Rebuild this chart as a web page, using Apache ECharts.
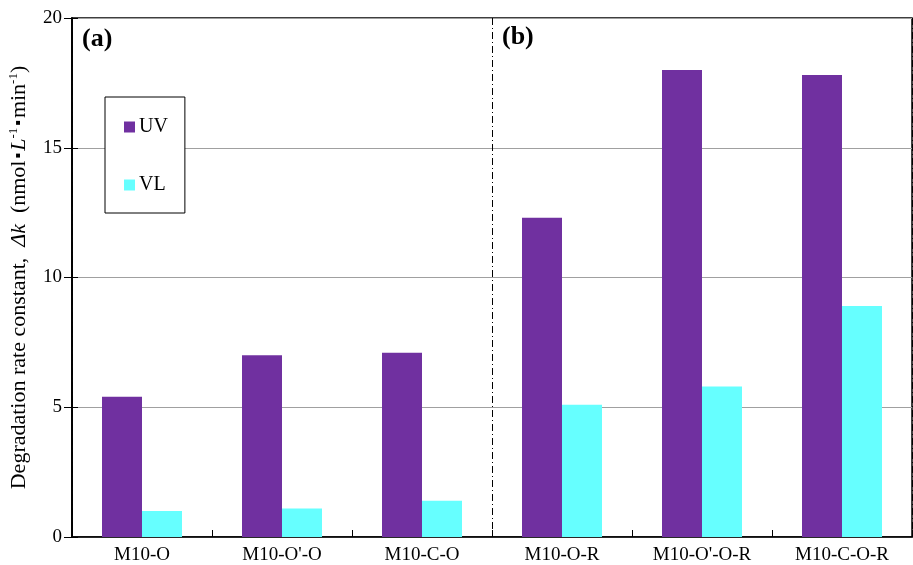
<!DOCTYPE html>
<html>
<head>
<meta charset="utf-8">
<script src="https://cdn.jsdelivr.net/npm/echarts@6/dist/echarts.min.js"></script>
<style>
  html, body { margin: 0; padding: 0; background: #fff; }
  #chart { width: 913px; height: 565px; }
</style>
</head>
<body>
<div id="chart"></div>
<script>
// Samples and measured degradation rate constants (nmol·L⁻¹·min⁻¹)
const categories = ['M10-O', "M10-O'-O", 'M10-C-O', 'M10-O-R', "M10-O'-O-R", 'M10-C-O-R'];
const uvValues = [5.4, 7.0, 7.1, 12.3, 18.0, 17.8];
const vlValues = [1.0, 1.1, 1.4, 5.1, 5.8, 8.9];
const yTicks = [0, 5, 10, 15, 20];
// group (a) holds the first three samples, group (b) the rest
const groupSplit = 3;

const FONT = '"Liberation Serif", "Times New Roman", serif';
const chart = echarts.init(document.getElementById('chart'), null, { renderer: 'canvas' });

const yBase = {
  type: 'value',
  min: yTicks[0],
  max: yTicks[yTicks.length - 1],
  interval: yTicks[1] - yTicks[0],
  axisLine: { show: true, lineStyle: { color: '#000', width: 1.5 } }
};

chart.setOption({
  animation: false,
  backgroundColor: '#fff',
  grid: {
    left: 72, right: 1, top: 18, bottom: 28,
    outerBoundsMode: 'none',
    containLabel: false,
    show: true, borderColor: '#000', borderWidth: 1.5, backgroundColor: 'transparent'
  },
  legend: {
    orient: 'vertical',
    left: 105, top: 97,
    data: ['UV', 'VL'],
    itemWidth: 11, itemHeight: 11,
    itemGap: 38,
    icon: 'rect',
    padding: [20, 17, 18, 19],
    borderColor: '#000', borderWidth: 1,
    backgroundColor: '#fff',
    textStyle: { fontFamily: FONT, fontSize: 20, color: '#000', padding: [0, 0, 0, -1] }
  },
  xAxis: [
    {
      type: 'category',
      data: categories,
      boundaryGap: true,
      axisLine: { lineStyle: { color: '#000', width: 1.5 } },
      axisTick: { show: true, inside: true, length: 7, lineStyle: { color: '#000' } },
      axisLabel: { fontFamily: FONT, fontSize: 19, color: '#000', margin: 9 },
      splitLine: { show: false }
    },
    {
      // hidden helper axis in category units: its split line marks the group divider
      type: 'value',
      min: 0,
      max: categories.length,
      interval: groupSplit,
      show: true,
      axisLine: { show: false },
      axisTick: { show: false },
      axisLabel: { show: false },
      splitLine: { show: true, lineStyle: { color: '#000', width: 1, type: [7, 3, 1, 3] } }
    }
  ],
  yAxis: [
    Object.assign({}, yBase, {
      axisTick: { show: true, inside: true, length: 6, lineStyle: { color: '#000' } },
      axisLabel: { fontFamily: FONT, fontSize: 19, color: '#000', margin: 10 },
      splitLine: { show: true, lineStyle: { color: '#a0a0a0', width: 1 } },
      name: '{n|Degradation rate constant,  }{i|Δk}{n|  (nmol}{d|▪}{i|L}{s|-1}{d|▪}{n|min}{s|-1}{n|)}',
      nameLocation: 'middle',
      nameGap: 41,
      nameRotate: 90,
      nameTextStyle: {
        color: '#000',
        rich: {
          n: { fontFamily: FONT, fontSize: 22, color: '#000', lineHeight: 24 },
          i: { fontFamily: FONT, fontSize: 22, fontStyle: 'italic', color: '#000', lineHeight: 24 },
          d: { fontFamily: FONT, fontSize: 16, color: '#000', lineHeight: 24, padding: [0, 2] },
          s: { fontFamily: FONT, fontSize: 13, color: '#000', lineHeight: 24, verticalAlign: 'top' }
        }
      }
    }),
    Object.assign({}, yBase, {
      position: 'left',
      axisTick: { show: true, inside: false, length: 8, lineStyle: { color: '#000' } },
      axisLabel: { show: false },
      splitLine: { show: false }
    })
  ],
  series: [
    {
      name: 'UV', type: 'bar', data: uvValues,
      barWidth: 40, barGap: '0%',
      itemStyle: { color: '#7030A0' }
    },
    {
      name: 'VL', type: 'bar', data: vlValues,
      barWidth: 40, barGap: '0%',
      itemStyle: { color: '#66FFFF' }
    }
  ],
  graphic: [
    { type: 'text', left: 82, top: 26, style: { text: '(a)', font: 'bold 26px ' + FONT, fill: '#000' } },
    { type: 'text', left: 502, top: 24, style: { text: '(b)', font: 'bold 26px ' + FONT, fill: '#000' } }
  ]
});
</script>
</body>
</html>
